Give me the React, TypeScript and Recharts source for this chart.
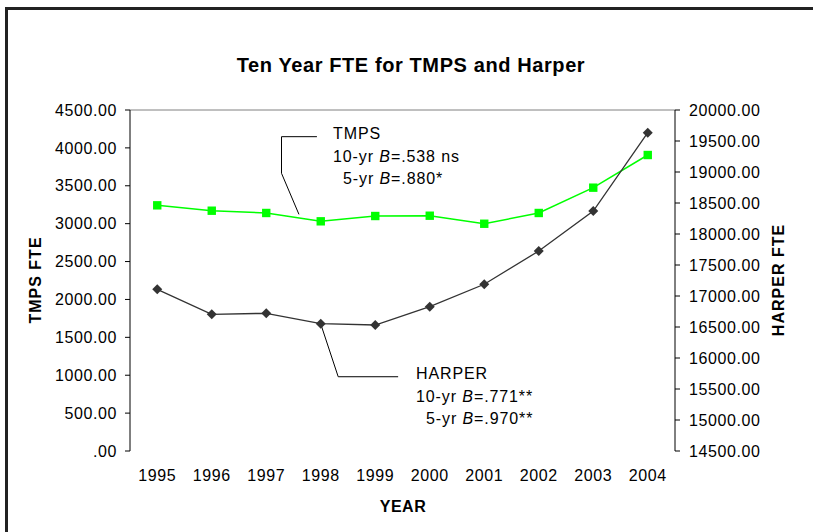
import React from 'react';
import { LineChart, Line, XAxis, YAxis, ReferenceLine } from 'recharts';

const years = ['1995', '1996', '1997', '1998', '1999', '2000', '2001', '2002', '2003', '2004'];
const tmps = [3242, 3171, 3141, 3031, 3101, 3105, 2999, 3141, 3475, 3906];
const harper = [17108, 16705, 16721, 16553, 16532, 16828, 17189, 17726, 18371, 19634];
const leftTicks = [0, 500, 1000, 1500, 2000, 2500, 3000, 3500, 4000, 4500];
const rightTicks = [14500, 15000, 15500, 16000, 16500, 17000, 17500, 18000, 18500, 19000, 19500, 20000];

// annotation leader lines (data coordinates: x = category index, y = TMPS axis units)
const tmpsLeader = [
  { x: 2.93, y: 4148 },
  { x: 2.28, y: 4148 },
  { x: 2.28, y: 3665 },
  { x: 2.6, y: 3123 },
];
const harperLeader = [
  { x: 3.0, y: 1676 },
  { x: 3.32, y: 980 },
  { x: 4.42, y: 980 },
];

const data = years.map((y, i) => ({ i, year: y, tmps: tmps[i], harper: harper[i] }));
const centers = years.map((_, i) => i);
const bounds = years.map((_, i) => i - 0.5).concat([years.length - 0.5]);
const xDomain = [-0.5, years.length - 0.5];

const FONT = '"Liberation Sans", Arial, sans-serif';
const tickStyle = { fontFamily: FONT, fontSize: 16, fill: '#000', letterSpacing: 0.6 };

const fmtLeft = (v: number) => (v === 0 ? '.00' : v.toFixed(2));
const fmtRight = (v: number) => v.toFixed(2);

const Square = (props: any) => {
  const { cx, cy, index } = props;
  if (cx == null || cy == null) return <g key={`s${index}`} />;
  return <rect key={`s${index}`} x={cx - 4.2} y={cy - 4.2} width={8.4} height={8.4} fill="#00FF00" />;
};
const Diamond = (props: any) => {
  const { cx, cy, index } = props;
  if (cx == null || cy == null) return <g key={`d${index}`} />;
  const r = 5;
  return (
    <polygon
      key={`d${index}`}
      points={`${cx},${cy - r} ${cx + r},${cy} ${cx},${cy + r} ${cx - r},${cy}`}
      fill="#333333"
    />
  );
};

const segs = (pts: { x: number; y: number }[]) =>
  pts.slice(1).map((p, k) => [pts[k], p] as [{ x: number; y: number }, { x: number; y: number }]);

export default function App() {
  return (
    <div style={{ position: 'absolute', left: 0, top: 0, width: 813, height: 532, background: '#fff', overflow: 'hidden' }}>
      <div
        style={{
          position: 'absolute',
          left: 5,
          top: 7,
          width: 820,
          height: 540,
          borderTop: '3px solid #222',
          borderLeft: '3px solid #222',
          boxSizing: 'border-box',
        }}
      />
      <div style={{ position: 'absolute', left: 0, top: 0 }}>
        <LineChart width={813} height={532} data={data} margin={{ top: 110, right: 48, left: 60, bottom: 41 }}>
          <XAxis
            xAxisId="b"
            type="number"
            dataKey="i"
            domain={xDomain}
            allowDataOverflow
            ticks={bounds}
            tick={false}
            tickSize={5}
            height={0}
            axisLine={{ stroke: '#000', strokeWidth: 1 }}
            tickLine={{ stroke: '#000', strokeWidth: 1 }}
          />
          <XAxis
            xAxisId="bm"
            type="number"
            dataKey="i"
            domain={xDomain}
            allowDataOverflow
            ticks={bounds}
            tick={false}
            tickSize={5}
            height={0}
            mirror
            axisLine={false}
            tickLine={{ stroke: '#000', strokeWidth: 1 }}
          />
          <XAxis
            xAxisId="x"
            type="number"
            dataKey="i"
            domain={xDomain}
            allowDataOverflow
            ticks={centers}
            interval={0}
            tickFormatter={(v: number) => years[v]}
            tickLine={false}
            axisLine={false}
            tickSize={0}
            tickMargin={19}
            height={40}
            tick={tickStyle}
          />
          <YAxis
            yAxisId="lm"
            orientation="left"
            mirror
            width={0}
            domain={[0, 4500]}
            ticks={leftTicks}
            tick={false}
            tickSize={6}
            axisLine={false}
            tickLine={{ stroke: '#000' }}
          />
          <YAxis
            yAxisId="left"
            orientation="left"
            width={70}
            domain={[0, 4500]}
            ticks={leftTicks}
            interval={0}
            tickFormatter={fmtLeft}
            tickSize={5}
            tickMargin={8}
            axisLine={{ stroke: '#000' }}
            tickLine={{ stroke: '#000' }}
            tick={tickStyle}
          />
          <YAxis
            yAxisId="rm"
            orientation="right"
            mirror
            width={0}
            domain={[14500, 20000]}
            ticks={rightTicks}
            tick={false}
            tickSize={6}
            axisLine={false}
            tickLine={{ stroke: '#000' }}
          />
          <YAxis
            yAxisId="right"
            orientation="right"
            width={90}
            domain={[14500, 20000]}
            ticks={rightTicks}
            interval={0}
            tickFormatter={fmtRight}
            tickSize={5}
            tickMargin={9}
            axisLine={{ stroke: '#000' }}
            tickLine={{ stroke: '#000' }}
            tick={tickStyle}
          />
          <ReferenceLine xAxisId="x" yAxisId="left" y={4500} stroke="#808080" strokeWidth={1} />
          {segs(tmpsLeader).map((s, k) => (
            <ReferenceLine key={`tl${k}`} xAxisId="x" yAxisId="left" segment={s} stroke="#000" strokeWidth={1} ifOverflow="visible" />
          ))}
          {segs(harperLeader).map((s, k) => (
            <ReferenceLine key={`hl${k}`} xAxisId="x" yAxisId="left" segment={s} stroke="#000" strokeWidth={1} ifOverflow="visible" />
          ))}
          <Line
            xAxisId="x"
            yAxisId="left"
            dataKey="tmps"
            stroke="#00FF00"
            strokeWidth={1.5}
            dot={Square}
            activeDot={false}
            isAnimationActive={false}
          />
          <Line
            xAxisId="x"
            yAxisId="right"
            dataKey="harper"
            stroke="#333333"
            strokeWidth={1.3}
            dot={Diamond}
            activeDot={false}
            isAnimationActive={false}
          />
        </LineChart>
      </div>
      <svg
        width={813}
        height={532}
        style={{ position: 'absolute', left: 0, top: 0, pointerEvents: 'none' }}
        fontFamily={FONT}
      >
        <text x={411} y={72} textAnchor="middle" fontSize={20} fontWeight="bold" letterSpacing={0.6} fill="#000">
          Ten Year FTE for TMPS and Harper
        </text>
        <text
          x={35}
          y={280}
          textAnchor="middle"
          dominantBaseline="central"
          fontSize={16}
          fontWeight="bold"
          letterSpacing={1}
          transform="rotate(-90 35 280)"
          fill="#000"
        >
          TMPS FTE
        </text>
        <text
          x={778}
          y={280}
          textAnchor="middle"
          dominantBaseline="central"
          fontSize={16}
          fontWeight="bold"
          letterSpacing={1}
          transform="rotate(-90 778 280)"
          fill="#000"
        >
          HARPER FTE
        </text>
        <text x={403} y={512} textAnchor="middle" fontSize={16} fontWeight="bold" letterSpacing={0.5} fill="#000">
          YEAR
        </text>
        <g fontSize={16} letterSpacing={0.9} fill="#000">
          <text x={333} y={139}>TMPS</text>
          <text x={333} y={162}>
            10-yr <tspan fontStyle="italic">B</tspan>=.538 ns
          </text>
          <text x={343} y={184}>
            5-yr <tspan fontStyle="italic">B</tspan>=.880*
          </text>
          <text x={416} y={379}>HARPER</text>
          <text x={416} y={402}>
            10-yr <tspan fontStyle="italic">B</tspan>=.771**
          </text>
          <text x={426} y={424}>
            5-yr <tspan fontStyle="italic">B</tspan>=.970**
          </text>
        </g>
      </svg>
    </div>
  );
}
